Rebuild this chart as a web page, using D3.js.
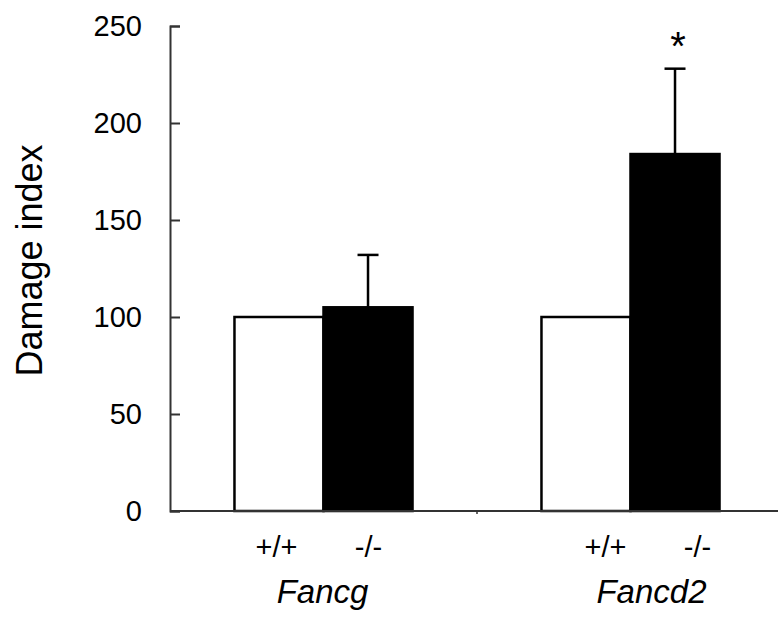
<!DOCTYPE html>
<html>
<head>
<meta charset="utf-8">
<script src="https://cdn.jsdelivr.net/npm/d3@7/dist/d3.min.js"></script>
<style>
  html, body { margin: 0; padding: 0; background: #fff; }
  text { font-family: Arial, "Liberation Sans", sans-serif; fill: #000; }
</style>
</head>
<body>
<svg id="chart" width="778" height="618"></svg>
<script>
// ---- data ----
const groups = ["Fancg", "Fancd2"];
const genotypes = ["+/+", "-/-"];
const values = [[100, 105], [100, 184]];
const errors = [[0, 27], [0, 44]];
const significant = [[false, false], [false, true]];
const yTicks = [0, 50, 100, 150, 200, 250];
const yLabel = "Damage index";

// ---- layout ----
const svg = d3.select("#chart");
const margin = { left: 170, top: 26, bottom: 107 };
const plotBottom = 618 - margin.bottom; // 511

const x = d3.scaleBand().domain(groups).range([170, 784]).paddingInner(0).paddingOuter(0);
const xLabel = d3.scaleBand().domain(groups).range([158, 816]);
const innerBand = 0.29; // fraction of group width per bar
const y = d3.scaleLinear().domain([0, 250]).range([plotBottom, margin.top]);

const barW = x.bandwidth() * innerBand;
function barX(gi, k) {
  const c = x(groups[gi]) + x.bandwidth() / 2;
  return k === 0 ? c - barW : c;
}

// ---- bars ----
const flat = [];
values.forEach((row, gi) => row.forEach((v, k) => flat.push({ gi, k, v, e: errors[gi][k], sig: significant[gi][k] })));

const g = svg.append("g");

g.selectAll("rect.bar").data(flat).enter().append("rect")
  .attr("class", "bar")
  .attr("x", d => barX(d.gi, d.k))
  .attr("y", d => y(d.v))
  .attr("width", barW)
  .attr("height", d => y(0) - y(d.v))
  .attr("fill", d => d.k === 0 ? "#fff" : "#000")
  .attr("stroke", "#000")
  .attr("stroke-width", 2.5);

// error bars (upper only)
const eb = flat.filter(d => d.e > 0);
g.selectAll("line.err").data(eb).enter().append("line")
  .attr("x1", d => barX(d.gi, d.k) + barW / 2)
  .attr("x2", d => barX(d.gi, d.k) + barW / 2)
  .attr("y1", d => y(d.v))
  .attr("y2", d => y(d.v + d.e))
  .attr("stroke", "#000").attr("stroke-width", 2.5);
g.selectAll("line.cap").data(eb).enter().append("line")
  .attr("x1", d => barX(d.gi, d.k) + barW / 2 - 10.5)
  .attr("x2", d => barX(d.gi, d.k) + barW / 2 + 10.5)
  .attr("y1", d => y(d.v + d.e))
  .attr("y2", d => y(d.v + d.e))
  .attr("stroke", "#000").attr("stroke-width", 2.5);

// significance
g.selectAll("text.sig").data(flat.filter(d => d.sig)).enter().append("text")
  .attr("x", d => barX(d.gi, d.k) + barW / 2 + 3)
  .attr("y", d => y(d.v + d.e) - 9)
  .attr("text-anchor", "middle")
  .attr("font-size", 40)
  .text("*");

// ---- y axis ----
const yAxis = d3.axisRight(y).tickValues(yTicks).tickSize(10).tickFormat("");
const ya = svg.append("g").attr("transform", `translate(170,0)`).call(yAxis);
ya.select(".domain").attr("stroke", "#333").attr("stroke-width", 2);
ya.selectAll(".tick line").attr("stroke", "#333").attr("stroke-width", 2);

svg.selectAll("text.ytick").data(yTicks).enter().append("text")
  .attr("class", "ytick")
  .attr("x", 142)
  .attr("y", d => y(d))
  .attr("dy", "0.36em")
  .attr("text-anchor", "end")
  .attr("font-size", 29)
  .attr("fill", "#111")
  .text(d => d);

svg.append("text")
  .attr("transform", `translate(42,${(y(0) + y(250)) / 2 - 8}) rotate(-90)`)
  .attr("text-anchor", "middle")
  .attr("font-size", 36)
  .text(yLabel);

// ---- x axis ----
svg.append("line")
  .attr("x1", 170).attr("x2", 778)
  .attr("y1", plotBottom).attr("y2", plotBottom)
  .attr("stroke", "#333").attr("stroke-width", 2);
// group separator tick
svg.append("line")
  .attr("x1", x(groups[1])).attr("x2", x(groups[1]))
  .attr("y1", plotBottom).attr("y2", plotBottom + 3)
  .attr("stroke", "#333").attr("stroke-width", 1.5);

// genotype labels
const lbl = [];
groups.forEach((gr, gi) => genotypes.forEach((gt, k) => lbl.push({ gi, k, gt })));
svg.selectAll("text.geno").data(lbl).enter().append("text")
  .attr("x", d => {
    const c = xLabel(groups[d.gi]) + xLabel.bandwidth() / 2;
    return c + (d.k === 0 ? -1 : 1) * xLabel.bandwidth() * 0.14;
  })
  .attr("y", 557)
  .attr("text-anchor", "middle")
  .attr("font-size", 29)
  .text(d => d.gt);

svg.selectAll("text.grp").data(groups).enter().append("text")
  .attr("x", d => xLabel(d) + xLabel.bandwidth() / 2)
  .attr("y", 603)
  .attr("text-anchor", "middle")
  .attr("font-size", 33)
  .attr("font-style", "italic")
  .text(d => d);
</script>
</body>
</html>
